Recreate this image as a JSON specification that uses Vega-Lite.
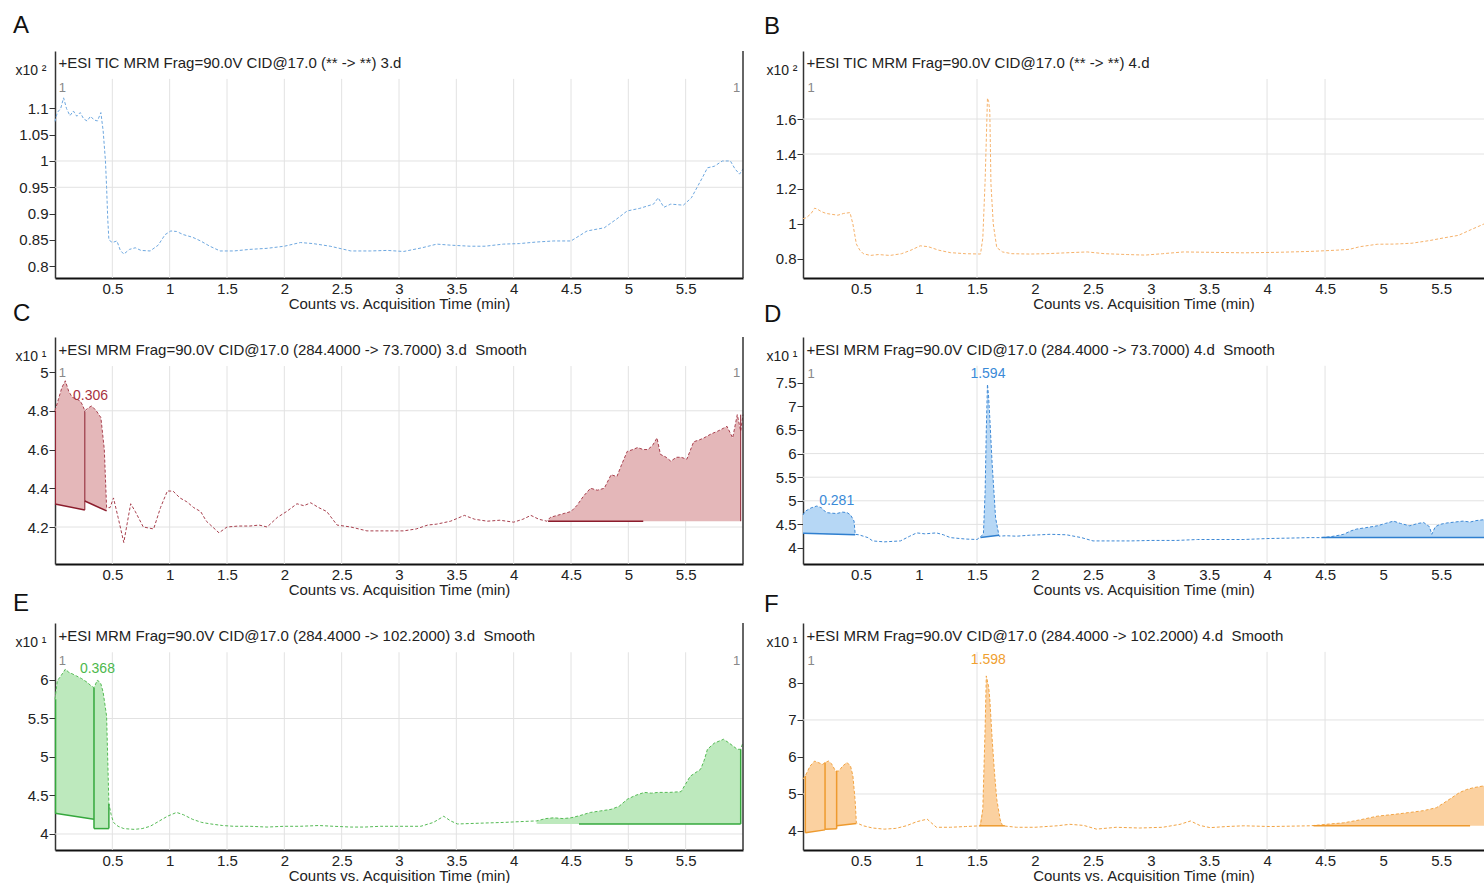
{
"$schema": "https://vega.github.io/schema/vega-lite/v6.json",
"padding": {"left": 13, "top": 14, "right": 0, "bottom": 0},
"background": "white",
"columns": 2,
"bounds": "flush",
"spacing": {"row": 59, "column": 60},
"datasets": {
"A": [{"t":0,"v":1.075},{"t":0.02,"v":1.092},{"t":0.05,"v":1.1},{"t":0.075,"v":1.12},{"t":0.1,"v":1.1},{"t":0.13,"v":1.086},{"t":0.16,"v":1.095},{"t":0.19,"v":1.085},{"t":0.22,"v":1.092},{"t":0.25,"v":1.08},{"t":0.28,"v":1.076},{"t":0.31,"v":1.085},{"t":0.34,"v":1.078},{"t":0.37,"v":1.076},{"t":0.4,"v":1.092},{"t":0.42,"v":1.057},{"t":0.44,"v":1.0},{"t":0.45,"v":0.95},{"t":0.46,"v":0.89},{"t":0.47,"v":0.85},{"t":0.5,"v":0.845},{"t":0.54,"v":0.848},{"t":0.57,"v":0.83},{"t":0.6,"v":0.823},{"t":0.65,"v":0.832},{"t":0.7,"v":0.835},{"t":0.75,"v":0.83},{"t":0.83,"v":0.829},{"t":0.9,"v":0.84},{"t":0.96,"v":0.86},{"t":1.01,"v":0.867},{"t":1.06,"v":0.866},{"t":1.12,"v":0.86},{"t":1.2,"v":0.855},{"t":1.27,"v":0.848},{"t":1.35,"v":0.838},{"t":1.44,"v":0.829},{"t":1.56,"v":0.829},{"t":1.7,"v":0.832},{"t":1.85,"v":0.834},{"t":2.0,"v":0.838},{"t":2.14,"v":0.845},{"t":2.25,"v":0.843},{"t":2.4,"v":0.838},{"t":2.58,"v":0.829},{"t":2.75,"v":0.829},{"t":2.9,"v":0.83},{"t":3.04,"v":0.828},{"t":3.2,"v":0.835},{"t":3.33,"v":0.842},{"t":3.45,"v":0.84},{"t":3.62,"v":0.838},{"t":3.75,"v":0.838},{"t":3.91,"v":0.842},{"t":4.05,"v":0.843},{"t":4.2,"v":0.846},{"t":4.35,"v":0.848},{"t":4.5,"v":0.848},{"t":4.64,"v":0.867},{"t":4.79,"v":0.873},{"t":4.9,"v":0.89},{"t":4.99,"v":0.905},{"t":5.1,"v":0.91},{"t":5.22,"v":0.918},{"t":5.26,"v":0.93},{"t":5.31,"v":0.912},{"t":5.37,"v":0.918},{"t":5.48,"v":0.916},{"t":5.55,"v":0.93},{"t":5.6,"v":0.95},{"t":5.65,"v":0.97},{"t":5.69,"v":0.987},{"t":5.75,"v":0.99},{"t":5.82,"v":1.0},{"t":5.89,"v":1.0},{"t":5.93,"v":0.985},{"t":5.97,"v":0.975},{"t":6.0,"v":0.985}],
"B": [{"t":0,"v":1.03},{"t":0.03,"v":1.036},{"t":0.07,"v":1.06},{"t":0.1,"v":1.09},{"t":0.12,"v":1.086},{"t":0.16,"v":1.07},{"t":0.2,"v":1.06},{"t":0.25,"v":1.055},{"t":0.3,"v":1.05},{"t":0.35,"v":1.06},{"t":0.405,"v":1.065},{"t":0.43,"v":1.0},{"t":0.46,"v":0.885},{"t":0.49,"v":0.85},{"t":0.52,"v":0.83},{"t":0.58,"v":0.82},{"t":0.65,"v":0.825},{"t":0.75,"v":0.82},{"t":0.85,"v":0.83},{"t":0.93,"v":0.85},{"t":1.01,"v":0.875},{"t":1.08,"v":0.87},{"t":1.17,"v":0.85},{"t":1.27,"v":0.836},{"t":1.4,"v":0.83},{"t":1.53,"v":0.828},{"t":1.55,"v":0.92},{"t":1.57,"v":1.25},{"t":1.585,"v":1.6},{"t":1.59,"v":1.72},{"t":1.6,"v":1.7},{"t":1.61,"v":1.646},{"t":1.615,"v":1.45},{"t":1.62,"v":1.23},{"t":1.64,"v":1.0},{"t":1.67,"v":0.865},{"t":1.72,"v":0.84},{"t":1.8,"v":0.83},{"t":1.95,"v":0.828},{"t":2.1,"v":0.83},{"t":2.3,"v":0.836},{"t":2.45,"v":0.84},{"t":2.6,"v":0.83},{"t":2.8,"v":0.825},{"t":2.95,"v":0.822},{"t":3.1,"v":0.83},{"t":3.28,"v":0.84},{"t":3.5,"v":0.838},{"t":3.8,"v":0.835},{"t":4.1,"v":0.838},{"t":4.37,"v":0.843},{"t":4.6,"v":0.85},{"t":4.71,"v":0.855},{"t":4.8,"v":0.87},{"t":4.95,"v":0.884},{"t":5.1,"v":0.885},{"t":5.25,"v":0.89},{"t":5.4,"v":0.905},{"t":5.52,"v":0.92},{"t":5.65,"v":0.935},{"t":5.75,"v":0.965},{"t":5.87,"v":1.0}],
"C": [{"t":0,"v":4.8},{"t":0.03,"v":4.86},{"t":0.06,"v":4.92},{"t":0.09,"v":4.955},{"t":0.12,"v":4.9},{"t":0.15,"v":4.87},{"t":0.19,"v":4.86},{"t":0.22,"v":4.85},{"t":0.24,"v":4.83},{"t":0.26,"v":4.8},{"t":0.29,"v":4.815},{"t":0.32,"v":4.825},{"t":0.36,"v":4.8},{"t":0.4,"v":4.765},{"t":0.43,"v":4.6},{"t":0.45,"v":4.3},{"t":0.48,"v":4.3},{"t":0.51,"v":4.35},{"t":0.55,"v":4.25},{"t":0.6,"v":4.12},{"t":0.63,"v":4.22},{"t":0.66,"v":4.32},{"t":0.7,"v":4.28},{"t":0.77,"v":4.2},{"t":0.86,"v":4.19},{"t":0.92,"v":4.3},{"t":0.98,"v":4.386},{"t":1.03,"v":4.385},{"t":1.09,"v":4.35},{"t":1.15,"v":4.33},{"t":1.21,"v":4.3},{"t":1.27,"v":4.28},{"t":1.32,"v":4.23},{"t":1.43,"v":4.17},{"t":1.5,"v":4.2},{"t":1.6,"v":4.205},{"t":1.7,"v":4.205},{"t":1.78,"v":4.21},{"t":1.85,"v":4.2},{"t":1.94,"v":4.25},{"t":2.02,"v":4.28},{"t":2.11,"v":4.32},{"t":2.17,"v":4.31},{"t":2.23,"v":4.325},{"t":2.3,"v":4.3},{"t":2.37,"v":4.28},{"t":2.46,"v":4.21},{"t":2.58,"v":4.2},{"t":2.72,"v":4.18},{"t":2.84,"v":4.18},{"t":2.95,"v":4.18},{"t":3.04,"v":4.18},{"t":3.15,"v":4.19},{"t":3.25,"v":4.21},{"t":3.33,"v":4.215},{"t":3.45,"v":4.23},{"t":3.57,"v":4.26},{"t":3.66,"v":4.24},{"t":3.77,"v":4.23},{"t":3.88,"v":4.235},{"t":4.0,"v":4.225},{"t":4.08,"v":4.24},{"t":4.15,"v":4.26},{"t":4.22,"v":4.24},{"t":4.29,"v":4.23},{"t":4.32,"v":4.25},{"t":4.38,"v":4.26},{"t":4.44,"v":4.27},{"t":4.5,"v":4.28},{"t":4.55,"v":4.31},{"t":4.61,"v":4.36},{"t":4.67,"v":4.4},{"t":4.73,"v":4.39},{"t":4.79,"v":4.4},{"t":4.85,"v":4.47},{"t":4.9,"v":4.46},{"t":4.94,"v":4.52},{"t":4.99,"v":4.59},{"t":5.04,"v":4.6},{"t":5.08,"v":4.61},{"t":5.13,"v":4.6},{"t":5.17,"v":4.6},{"t":5.21,"v":4.62},{"t":5.25,"v":4.66},{"t":5.28,"v":4.575},{"t":5.33,"v":4.56},{"t":5.37,"v":4.54},{"t":5.42,"v":4.56},{"t":5.46,"v":4.56},{"t":5.51,"v":4.55},{"t":5.57,"v":4.64},{"t":5.62,"v":4.65},{"t":5.66,"v":4.66},{"t":5.72,"v":4.68},{"t":5.78,"v":4.695},{"t":5.83,"v":4.71},{"t":5.86,"v":4.72},{"t":5.91,"v":4.66},{"t":5.95,"v":4.78},{"t":5.98,"v":4.695},{"t":6.0,"v":4.78}],
"C_area": [{"seg":"a","t":0,"v":4.8,"b":4.319},{"seg":"a","t":0.03,"v":4.86,"b":4.315},{"seg":"a","t":0.06,"v":4.92,"b":4.312},{"seg":"a","t":0.09,"v":4.955,"b":4.308},{"seg":"a","t":0.12,"v":4.9,"b":4.305},{"seg":"a","t":0.15,"v":4.87,"b":4.301},{"seg":"a","t":0.19,"v":4.86,"b":4.297},{"seg":"a","t":0.22,"v":4.85,"b":4.293},{"seg":"a","t":0.24,"v":4.83,"b":4.29},{"seg":"a","t":0.26,"v":4.8,"b":4.288},
{"seg":"b","t":0.26,"v":4.79,"b":4.334},{"seg":"b","t":0.29,"v":4.815,"b":4.326},{"seg":"b","t":0.32,"v":4.825,"b":4.318},{"seg":"b","t":0.36,"v":4.8,"b":4.307},{"seg":"b","t":0.4,"v":4.765,"b":4.296},{"seg":"b","t":0.43,"v":4.6,"b":4.288},{"seg":"b","t":0.45,"v":4.3,"b":4.283},
{"seg":"c","t":4.3,"v":4.23,"b":4.23},{"seg":"c","t":4.32,"v":4.25,"b":4.23},{"seg":"c","t":4.38,"v":4.26,"b":4.23},{"seg":"c","t":4.44,"v":4.27,"b":4.23},{"seg":"c","t":4.5,"v":4.28,"b":4.23},{"seg":"c","t":4.55,"v":4.31,"b":4.23},{"seg":"c","t":4.61,"v":4.36,"b":4.23},{"seg":"c","t":4.67,"v":4.4,"b":4.23},{"seg":"c","t":4.73,"v":4.39,"b":4.23},{"seg":"c","t":4.79,"v":4.4,"b":4.23},{"seg":"c","t":4.85,"v":4.47,"b":4.23},{"seg":"c","t":4.9,"v":4.46,"b":4.23},{"seg":"c","t":4.94,"v":4.52,"b":4.23},{"seg":"c","t":4.99,"v":4.59,"b":4.23},{"seg":"c","t":5.04,"v":4.6,"b":4.23},{"seg":"c","t":5.08,"v":4.61,"b":4.23},{"seg":"c","t":5.13,"v":4.6,"b":4.23},{"seg":"c","t":5.17,"v":4.6,"b":4.23},{"seg":"c","t":5.21,"v":4.62,"b":4.23},{"seg":"c","t":5.25,"v":4.66,"b":4.23},{"seg":"c","t":5.28,"v":4.575,"b":4.23},{"seg":"c","t":5.33,"v":4.56,"b":4.23},{"seg":"c","t":5.37,"v":4.54,"b":4.23},{"seg":"c","t":5.42,"v":4.56,"b":4.23},{"seg":"c","t":5.46,"v":4.56,"b":4.23},{"seg":"c","t":5.51,"v":4.55,"b":4.23},{"seg":"c","t":5.57,"v":4.64,"b":4.23},{"seg":"c","t":5.62,"v":4.65,"b":4.23},{"seg":"c","t":5.66,"v":4.66,"b":4.23},{"seg":"c","t":5.72,"v":4.68,"b":4.23},{"seg":"c","t":5.78,"v":4.695,"b":4.23},{"seg":"c","t":5.83,"v":4.71,"b":4.23},{"seg":"c","t":5.86,"v":4.72,"b":4.23},{"seg":"c","t":5.91,"v":4.66,"b":4.23},{"seg":"c","t":5.95,"v":4.78,"b":4.23},{"seg":"c","t":5.98,"v":4.695,"b":4.23}],
"C_base": [{"seg":"a","t":0,"b":4.319},{"seg":"a","t":0.26,"b":4.288},{"seg":"b","t":0.26,"b":4.334},{"seg":"b","t":0.45,"b":4.283},{"seg":"c","t":4.3,"b":4.23},{"seg":"c","t":5.13,"b":4.23}],
"C_edge": [{"t":0.005,"v":4.8,"b":4.319},{"t":0.26,"v":4.8,"b":4.288},{"t":5.98,"v":4.78,"b":4.23}],
"D": [{"t":0,"v":4.7},{"t":0.02,"v":4.78},{"t":0.07,"v":4.85},{"t":0.12,"v":4.89},{"t":0.16,"v":4.85},{"t":0.2,"v":4.75},{"t":0.24,"v":4.74},{"t":0.29,"v":4.73},{"t":0.34,"v":4.76},{"t":0.38,"v":4.75},{"t":0.41,"v":4.7},{"t":0.44,"v":4.57},{"t":0.45,"v":4.29},{"t":0.48,"v":4.28},{"t":0.52,"v":4.25},{"t":0.56,"v":4.22},{"t":0.6,"v":4.15},{"t":0.7,"v":4.13},{"t":0.84,"v":4.15},{"t":0.92,"v":4.25},{"t":0.98,"v":4.32},{"t":1.05,"v":4.3},{"t":1.15,"v":4.32},{"t":1.21,"v":4.28},{"t":1.27,"v":4.22},{"t":1.4,"v":4.19},{"t":1.5,"v":4.18},{"t":1.555,"v":4.29},{"t":1.57,"v":5.2},{"t":1.58,"v":6.5},{"t":1.59,"v":7.47},{"t":1.6,"v":7.2},{"t":1.61,"v":6.76},{"t":1.63,"v":5.8},{"t":1.66,"v":4.64},{"t":1.69,"v":4.25},{"t":1.75,"v":4.26},{"t":1.84,"v":4.25},{"t":1.95,"v":4.27},{"t":2.05,"v":4.28},{"t":2.13,"v":4.29},{"t":2.27,"v":4.28},{"t":2.4,"v":4.22},{"t":2.5,"v":4.15},{"t":2.65,"v":4.15},{"t":2.82,"v":4.15},{"t":3.0,"v":4.16},{"t":3.22,"v":4.16},{"t":3.4,"v":4.18},{"t":3.6,"v":4.18},{"t":3.8,"v":4.18},{"t":4.0,"v":4.2},{"t":4.2,"v":4.21},{"t":4.37,"v":4.22},{"t":4.47,"v":4.22},{"t":4.55,"v":4.24},{"t":4.62,"v":4.27},{"t":4.66,"v":4.29},{"t":4.72,"v":4.36},{"t":4.77,"v":4.4},{"t":4.85,"v":4.43},{"t":4.95,"v":4.47},{"t":5.02,"v":4.52},{"t":5.09,"v":4.57},{"t":5.15,"v":4.52},{"t":5.23,"v":4.47},{"t":5.3,"v":4.52},{"t":5.35,"v":4.54},{"t":5.4,"v":4.45},{"t":5.42,"v":4.29},{"t":5.45,"v":4.45},{"t":5.49,"v":4.5},{"t":5.55,"v":4.53},{"t":5.62,"v":4.55},{"t":5.69,"v":4.57},{"t":5.75,"v":4.55},{"t":5.8,"v":4.58},{"t":5.87,"v":4.6}],
"D_area": [{"seg":"a","t":0,"v":4.7,"b":4.31},{"seg":"a","t":0.02,"v":4.78,"b":4.31},{"seg":"a","t":0.07,"v":4.85,"b":4.3},{"seg":"a","t":0.12,"v":4.89,"b":4.3},{"seg":"a","t":0.16,"v":4.85,"b":4.3},{"seg":"a","t":0.2,"v":4.75,"b":4.29},{"seg":"a","t":0.24,"v":4.74,"b":4.29},{"seg":"a","t":0.29,"v":4.73,"b":4.29},{"seg":"a","t":0.34,"v":4.76,"b":4.285},{"seg":"a","t":0.38,"v":4.75,"b":4.285},{"seg":"a","t":0.41,"v":4.7,"b":4.28},{"seg":"a","t":0.44,"v":4.57,"b":4.28},{"seg":"a","t":0.45,"v":4.28,"b":4.28},
{"seg":"b","t":1.53,"v":4.22,"b":4.22},{"seg":"b","t":1.555,"v":4.29,"b":4.227},{"seg":"b","t":1.57,"v":5.2,"b":4.23},{"seg":"b","t":1.58,"v":6.5,"b":4.235},{"seg":"b","t":1.59,"v":7.47,"b":4.238},{"seg":"b","t":1.6,"v":7.2,"b":4.24},{"seg":"b","t":1.61,"v":6.76,"b":4.243},{"seg":"b","t":1.63,"v":5.8,"b":4.25},{"seg":"b","t":1.66,"v":4.64,"b":4.26},{"seg":"b","t":1.69,"v":4.27,"b":4.27},
{"seg":"c","t":4.47,"v":4.22,"b":4.22},{"seg":"c","t":4.55,"v":4.24,"b":4.22},{"seg":"c","t":4.62,"v":4.27,"b":4.22},{"seg":"c","t":4.66,"v":4.29,"b":4.22},{"seg":"c","t":4.72,"v":4.36,"b":4.22},{"seg":"c","t":4.77,"v":4.4,"b":4.22},{"seg":"c","t":4.85,"v":4.43,"b":4.22},{"seg":"c","t":4.95,"v":4.47,"b":4.22},{"seg":"c","t":5.02,"v":4.52,"b":4.22},{"seg":"c","t":5.09,"v":4.57,"b":4.22},{"seg":"c","t":5.15,"v":4.52,"b":4.22},{"seg":"c","t":5.23,"v":4.47,"b":4.22},{"seg":"c","t":5.3,"v":4.52,"b":4.22},{"seg":"c","t":5.35,"v":4.54,"b":4.22},{"seg":"c","t":5.4,"v":4.45,"b":4.22},{"seg":"c","t":5.42,"v":4.29,"b":4.22},{"seg":"c","t":5.45,"v":4.45,"b":4.22},{"seg":"c","t":5.49,"v":4.5,"b":4.22},{"seg":"c","t":5.55,"v":4.53,"b":4.22},{"seg":"c","t":5.62,"v":4.55,"b":4.22},{"seg":"c","t":5.69,"v":4.57,"b":4.22},{"seg":"c","t":5.75,"v":4.55,"b":4.22},{"seg":"c","t":5.8,"v":4.58,"b":4.22},{"seg":"c","t":5.87,"v":4.6,"b":4.22}],
"D_base": [{"seg":"a","t":0,"b":4.31},{"seg":"a","t":0.45,"b":4.28},{"seg":"b","t":1.53,"b":4.22},{"seg":"b","t":1.69,"b":4.27},{"seg":"c","t":4.47,"b":4.22},{"seg":"c","t":5.87,"b":4.22}],
"E": [{"t":0,"v":5.75},{"t":0.02,"v":5.99},{"t":0.05,"v":6.05},{"t":0.09,"v":6.14},{"t":0.12,"v":6.1},{"t":0.15,"v":6.08},{"t":0.19,"v":6.05},{"t":0.23,"v":6.02},{"t":0.28,"v":5.97},{"t":0.31,"v":5.93},{"t":0.34,"v":5.9},{"t":0.37,"v":6.0},{"t":0.4,"v":5.95},{"t":0.42,"v":5.84},{"t":0.45,"v":5.53},{"t":0.47,"v":4.39},{"t":0.49,"v":4.25},{"t":0.51,"v":4.15},{"t":0.55,"v":4.1},{"t":0.6,"v":4.07},{"t":0.69,"v":4.06},{"t":0.76,"v":4.07},{"t":0.83,"v":4.1},{"t":0.9,"v":4.16},{"t":0.98,"v":4.23},{"t":1.06,"v":4.28},{"t":1.12,"v":4.25},{"t":1.2,"v":4.19},{"t":1.28,"v":4.15},{"t":1.36,"v":4.13},{"t":1.46,"v":4.11},{"t":1.56,"v":4.1},{"t":1.7,"v":4.1},{"t":1.85,"v":4.09},{"t":2.0,"v":4.1},{"t":2.14,"v":4.1},{"t":2.3,"v":4.11},{"t":2.43,"v":4.1},{"t":2.58,"v":4.09},{"t":2.7,"v":4.09},{"t":2.84,"v":4.1},{"t":3.0,"v":4.1},{"t":3.19,"v":4.1},{"t":3.3,"v":4.15},{"t":3.39,"v":4.23},{"t":3.45,"v":4.17},{"t":3.51,"v":4.13},{"t":3.7,"v":4.14},{"t":3.91,"v":4.15},{"t":4.05,"v":4.16},{"t":4.2,"v":4.17},{"t":4.28,"v":4.2},{"t":4.35,"v":4.21},{"t":4.43,"v":4.2},{"t":4.5,"v":4.21},{"t":4.58,"v":4.24},{"t":4.67,"v":4.28},{"t":4.76,"v":4.3},{"t":4.85,"v":4.32},{"t":4.92,"v":4.36},{"t":4.99,"v":4.45},{"t":5.06,"v":4.5},{"t":5.14,"v":4.54},{"t":5.2,"v":4.53},{"t":5.26,"v":4.54},{"t":5.36,"v":4.54},{"t":5.46,"v":4.55},{"t":5.5,"v":4.65},{"t":5.54,"v":4.75},{"t":5.63,"v":4.84},{"t":5.66,"v":4.95},{"t":5.69,"v":5.1},{"t":5.75,"v":5.18},{"t":5.83,"v":5.23},{"t":5.88,"v":5.18},{"t":5.95,"v":5.1},{"t":5.98,"v":5.1},{"t":6.0,"v":5.19}],
"E_area": [{"seg":"a","t":0,"v":5.75,"b":4.27},{"seg":"a","t":0.02,"v":5.99,"b":4.265},{"seg":"a","t":0.05,"v":6.05,"b":4.258},{"seg":"a","t":0.09,"v":6.14,"b":4.249},{"seg":"a","t":0.12,"v":6.1,"b":4.242},{"seg":"a","t":0.15,"v":6.08,"b":4.235},{"seg":"a","t":0.19,"v":6.05,"b":4.225},{"seg":"a","t":0.23,"v":6.02,"b":4.216},{"seg":"a","t":0.28,"v":5.97,"b":4.204},{"seg":"a","t":0.31,"v":5.93,"b":4.197},{"seg":"a","t":0.34,"v":5.9,"b":4.19},
{"seg":"b","t":0.34,"v":5.9,"b":4.07},{"seg":"b","t":0.37,"v":6.0,"b":4.07},{"seg":"b","t":0.4,"v":5.95,"b":4.07},{"seg":"b","t":0.42,"v":5.84,"b":4.07},{"seg":"b","t":0.45,"v":5.53,"b":4.07},{"seg":"b","t":0.47,"v":4.39,"b":4.07},
{"seg":"c","t":4.2,"v":4.17,"b":4.13},{"seg":"c","t":4.28,"v":4.2,"b":4.13},{"seg":"c","t":4.35,"v":4.21,"b":4.13},{"seg":"c","t":4.43,"v":4.2,"b":4.13},{"seg":"c","t":4.5,"v":4.21,"b":4.13},{"seg":"c","t":4.58,"v":4.24,"b":4.13},{"seg":"c","t":4.67,"v":4.28,"b":4.13},{"seg":"c","t":4.76,"v":4.3,"b":4.13},{"seg":"c","t":4.85,"v":4.32,"b":4.13},{"seg":"c","t":4.92,"v":4.36,"b":4.13},{"seg":"c","t":4.99,"v":4.45,"b":4.13},{"seg":"c","t":5.06,"v":4.5,"b":4.13},{"seg":"c","t":5.14,"v":4.54,"b":4.13},{"seg":"c","t":5.2,"v":4.53,"b":4.13},{"seg":"c","t":5.26,"v":4.54,"b":4.13},{"seg":"c","t":5.36,"v":4.54,"b":4.13},{"seg":"c","t":5.46,"v":4.55,"b":4.13},{"seg":"c","t":5.5,"v":4.65,"b":4.13},{"seg":"c","t":5.54,"v":4.75,"b":4.13},{"seg":"c","t":5.63,"v":4.84,"b":4.13},{"seg":"c","t":5.66,"v":4.95,"b":4.13},{"seg":"c","t":5.69,"v":5.1,"b":4.13},{"seg":"c","t":5.75,"v":5.18,"b":4.13},{"seg":"c","t":5.83,"v":5.23,"b":4.13},{"seg":"c","t":5.88,"v":5.18,"b":4.13},{"seg":"c","t":5.95,"v":5.1,"b":4.13},{"seg":"c","t":5.98,"v":5.1,"b":4.13}],
"E_base": [{"seg":"a","t":0,"b":4.27},{"seg":"a","t":0.34,"b":4.19},{"seg":"b","t":0.34,"b":4.07},{"seg":"b","t":0.47,"b":4.07},{"seg":"c","t":4.57,"b":4.13},{"seg":"c","t":5.98,"b":4.13}],
"E_edge": [{"t":0.005,"v":5.75,"b":4.27},{"t":0.34,"v":5.9,"b":4.07},{"t":0.47,"v":4.39,"b":4.07},{"t":5.98,"v":5.1,"b":4.13}],
"F": [{"t":0,"v":5.4},{"t":0.02,"v":5.49},{"t":0.06,"v":5.75},{"t":0.1,"v":5.89},{"t":0.13,"v":5.85},{"t":0.17,"v":5.8},{"t":0.19,"v":5.85},{"t":0.22,"v":5.89},{"t":0.25,"v":5.8},{"t":0.28,"v":5.62},{"t":0.31,"v":5.62},{"t":0.34,"v":5.75},{"t":0.38,"v":5.85},{"t":0.41,"v":5.75},{"t":0.43,"v":5.49},{"t":0.45,"v":4.8},{"t":0.46,"v":4.22},{"t":0.49,"v":4.18},{"t":0.52,"v":4.14},{"t":0.6,"v":4.08},{"t":0.7,"v":4.05},{"t":0.8,"v":4.07},{"t":0.89,"v":4.14},{"t":0.98,"v":4.25},{"t":1.07,"v":4.32},{"t":1.15,"v":4.1},{"t":1.27,"v":4.1},{"t":1.4,"v":4.12},{"t":1.53,"v":4.14},{"t":1.55,"v":4.6},{"t":1.57,"v":6.8},{"t":1.58,"v":8.19},{"t":1.6,"v":7.9},{"t":1.61,"v":7.57},{"t":1.63,"v":6.5},{"t":1.65,"v":5.6},{"t":1.67,"v":4.86},{"t":1.7,"v":4.3},{"t":1.72,"v":4.14},{"t":1.84,"v":4.1},{"t":2.0,"v":4.1},{"t":2.19,"v":4.14},{"t":2.3,"v":4.18},{"t":2.42,"v":4.15},{"t":2.53,"v":4.05},{"t":2.7,"v":4.1},{"t":2.9,"v":4.08},{"t":3.1,"v":4.1},{"t":3.25,"v":4.18},{"t":3.34,"v":4.27},{"t":3.42,"v":4.15},{"t":3.51,"v":4.09},{"t":3.65,"v":4.12},{"t":3.8,"v":4.14},{"t":4.03,"v":4.12},{"t":4.2,"v":4.13},{"t":4.37,"v":4.14},{"t":4.45,"v":4.16},{"t":4.51,"v":4.18},{"t":4.66,"v":4.22},{"t":4.8,"v":4.3},{"t":4.95,"v":4.4},{"t":5.1,"v":4.45},{"t":5.23,"v":4.5},{"t":5.35,"v":4.55},{"t":5.46,"v":4.63},{"t":5.55,"v":4.81},{"t":5.66,"v":5.04},{"t":5.72,"v":5.12},{"t":5.78,"v":5.17},{"t":5.87,"v":5.22}],
"F_area": [{"seg":"a","t":0.02,"v":5.49,"b":3.95},{"seg":"a","t":0.06,"v":5.75,"b":3.97},{"seg":"a","t":0.1,"v":5.89,"b":3.99},{"seg":"a","t":0.13,"v":5.85,"b":4.0},{"seg":"a","t":0.17,"v":5.8,"b":4.02},{"seg":"a","t":0.19,"v":5.85,"b":4.03},
{"seg":"b","t":0.19,"v":5.85,"b":4.05},{"seg":"b","t":0.22,"v":5.89,"b":4.05},{"seg":"b","t":0.25,"v":5.8,"b":4.06},{"seg":"b","t":0.28,"v":5.62,"b":4.06},{"seg":"b","t":0.29,"v":5.62,"b":4.06},
{"seg":"c","t":0.29,"v":5.62,"b":4.14},{"seg":"c","t":0.31,"v":5.62,"b":4.15},{"seg":"c","t":0.34,"v":5.75,"b":4.16},{"seg":"c","t":0.38,"v":5.85,"b":4.17},{"seg":"c","t":0.41,"v":5.75,"b":4.18},{"seg":"c","t":0.43,"v":5.49,"b":4.19},{"seg":"c","t":0.45,"v":4.8,"b":4.2},{"seg":"c","t":0.46,"v":4.22,"b":4.2},
{"seg":"d","t":1.52,"v":4.14,"b":4.14},{"seg":"d","t":1.55,"v":4.6,"b":4.14},{"seg":"d","t":1.57,"v":6.8,"b":4.14},{"seg":"d","t":1.58,"v":8.19,"b":4.14},{"seg":"d","t":1.6,"v":7.9,"b":4.14},{"seg":"d","t":1.61,"v":7.57,"b":4.14},{"seg":"d","t":1.63,"v":6.5,"b":4.14},{"seg":"d","t":1.65,"v":5.6,"b":4.14},{"seg":"d","t":1.67,"v":4.86,"b":4.14},{"seg":"d","t":1.7,"v":4.3,"b":4.14},{"seg":"d","t":1.72,"v":4.14,"b":4.14},
{"seg":"e","t":4.45,"v":4.16,"b":4.14},{"seg":"e","t":4.51,"v":4.18,"b":4.14},{"seg":"e","t":4.66,"v":4.22,"b":4.14},{"seg":"e","t":4.8,"v":4.3,"b":4.14},{"seg":"e","t":4.95,"v":4.4,"b":4.14},{"seg":"e","t":5.1,"v":4.45,"b":4.14},{"seg":"e","t":5.23,"v":4.5,"b":4.14},{"seg":"e","t":5.35,"v":4.55,"b":4.14},{"seg":"e","t":5.46,"v":4.63,"b":4.14},{"seg":"e","t":5.55,"v":4.81,"b":4.14},{"seg":"e","t":5.66,"v":5.04,"b":4.14},{"seg":"e","t":5.72,"v":5.12,"b":4.14},{"seg":"e","t":5.78,"v":5.17,"b":4.14},{"seg":"e","t":5.87,"v":5.22,"b":4.14}],
"F_base": [{"seg":"a","t":0.02,"b":3.95},{"seg":"a","t":0.19,"b":4.03},{"seg":"b","t":0.19,"b":4.05},{"seg":"b","t":0.29,"b":4.06},{"seg":"c","t":0.29,"b":4.14},{"seg":"c","t":0.46,"b":4.2},{"seg":"d","t":1.52,"b":4.14},{"seg":"d","t":1.74,"b":4.14},{"seg":"e","t":4.4,"b":4.14},{"seg":"e","t":5.75,"b":4.14}],
"F_edge": [{"t":0.02,"v":5.49,"b":3.95},{"t":0.19,"v":5.85,"b":4.03},{"t":0.29,"v":5.62,"b":4.06}],
"gridL": [{"t":0.5},{"t":1},{"t":1.5},{"t":2},{"t":2.5},{"t":3},{"t":3.5},{"t":4},{"t":4.5},{"t":5},{"t":5.5}],
"gridR": [{"t":1.5},{"t":4},{"t":4.5}]
},
"concat": [
{
"width": 688, "height": 227,
"title": {"text": "A", "offset": 12},
"layer": [
{"data": {"name": "gridL"}, "mark": {"type": "rule", "color": "#e2e2e2"}, "encoding": {"x": {"field": "t", "type": "quantitative"}, "y": {"datum": 1.156}, "y2": {"datum": 0.7776}}},
{"data": {"values": [{"v": 1}, {"v": 0.95}]}, "mark": {"type": "rule", "color": "#e2e2e2"}, "encoding": {"y": {"field": "v", "type": "quantitative"}}},
{"data": {"name": "A"}, "mark": {"type": "line", "color": "#6ea8e0", "strokeWidth": 1, "strokeDash": [3, 2]},
 "encoding": {"x": {"field": "t", "type": "quantitative", "scale": {"domain": [0, 6], "nice": false, "zero": false}, "axis": {"values": [0.5,1,1.5,2,2.5,3,3.5,4,4.5,5,5.5], "tickCount": 30, "format": "~g", "title": "Counts vs. Acquisition Time (min)"}},
  "y": {"field": "v", "type": "quantitative", "scale": {"domain": [0.7776, 1.209], "nice": false, "zero": false}, "axis": {"values": [0.8,0.85,0.9,0.95,1,1.05,1.1], "tickCount": 30, "format": "~g", "title": "x10 ²", "titleX": -9}}}},
{"data": {"values": [{}]}, "mark": {"type": "text", "align": "left", "baseline": "middle", "fontSize": 15, "color": "#222"}, "encoding": {"x": {"datum": 0.03}, "y": {"datum": 1.186}, "text": {"value": "+ESI TIC MRM Frag=90.0V CID@17.0 (** -> **) 3.d"}}},
{"data": {"values": [{}]}, "mark": {"type": "text", "align": "center", "baseline": "middle", "fontSize": 13, "color": "#888"}, "encoding": {"x": {"datum": 0.065}, "y": {"datum": 1.139}, "text": {"value": "1"}}},
{"data": {"values": [{}]}, "mark": {"type": "text", "align": "center", "baseline": "middle", "fontSize": 13, "color": "#888"}, "encoding": {"x": {"datum": 5.945}, "y": {"datum": 1.139}, "text": {"value": "1"}}},
{"data": {"values": [{}]}, "mark": {"type": "rule", "color": "#333", "strokeWidth": 1.5}, "encoding": {"x": {"datum": 6}}}
]
},
{
"width": 681, "height": 227,
"title": {"text": "B", "offset": 12, "dx": -39},
"layer": [
{"data": {"name": "gridR"}, "mark": {"type": "rule", "color": "#e2e2e2"}, "encoding": {"x": {"field": "t", "type": "quantitative"}, "y": {"datum": 1.829}, "y2": {"datum": 0.691}}},
{"data": {"values": [{"v": 1.6}, {"v": 1.4}]}, "mark": {"type": "rule", "color": "#e2e2e2"}, "encoding": {"y": {"field": "v", "type": "quantitative"}}},
{"data": {"name": "B"}, "mark": {"type": "line", "color": "#f6b26b", "strokeWidth": 1, "strokeDash": [3, 2]},
 "encoding": {"x": {"field": "t", "type": "quantitative", "scale": {"domain": [0, 5.87], "nice": false, "zero": false}, "axis": {"values": [0.5,1,1.5,2,2.5,3,3.5,4,4.5,5,5.5], "tickCount": 30, "format": "~g", "title": "Counts vs. Acquisition Time (min)"}},
  "y": {"field": "v", "type": "quantitative", "scale": {"domain": [0.691, 1.989], "nice": false, "zero": false}, "axis": {"values": [0.8,1,1.2,1.4,1.6], "tickCount": 30, "format": "~g", "title": "x10 ²", "titleX": -6}}}},
{"data": {"values": [{}]}, "mark": {"type": "text", "align": "left", "baseline": "middle", "fontSize": 15, "color": "#222"}, "encoding": {"x": {"datum": 0.03}, "y": {"datum": 1.92}, "text": {"value": "+ESI TIC MRM Frag=90.0V CID@17.0 (** -> **) 4.d"}}},
{"data": {"values": [{}]}, "mark": {"type": "text", "align": "center", "baseline": "middle", "fontSize": 13, "color": "#888"}, "encoding": {"x": {"datum": 0.07}, "y": {"datum": 1.777}, "text": {"value": "1"}}}
]
},
{
"width": 688, "height": 227,
"title": {"text": "C", "offset": 10},
"layer": [
{"data": {"name": "gridL"}, "mark": {"type": "rule", "color": "#e2e2e2"}, "encoding": {"x": {"field": "t", "type": "quantitative"}, "y": {"datum": 5.031}, "y2": {"datum": 4.009}}},
{"data": {"values": [{"v": 4.8}, {"v": 4.2}]}, "mark": {"type": "rule", "color": "#e2e2e2"}, "encoding": {"y": {"field": "v", "type": "quantitative"}}},
{"data": {"name": "C_area"}, "mark": {"type": "area", "color": "#e4b7b9", "opacity": 1}, "encoding": {"x": {"field": "t", "type": "quantitative"}, "y": {"field": "v", "type": "quantitative"}, "y2": {"field": "b"}, "detail": {"field": "seg"}}},
{"data": {"name": "C"}, "mark": {"type": "line", "color": "#a8404e", "strokeWidth": 1, "strokeDash": [3, 2]},
 "encoding": {"x": {"field": "t", "type": "quantitative", "scale": {"domain": [0, 6], "nice": false, "zero": false}, "axis": {"values": [0.5,1,1.5,2,2.5,3,3.5,4,4.5,5,5.5], "tickCount": 30, "format": "~g", "title": "Counts vs. Acquisition Time (min)"}},
  "y": {"field": "v", "type": "quantitative", "scale": {"domain": [4.009, 5.181], "nice": false, "zero": false}, "axis": {"values": [4.2,4.4,4.6,4.8,5], "tickCount": 30, "format": "~g", "title": "x10 ¹", "titleX": -9}}}},
{"data": {"name": "C_base"}, "mark": {"type": "line", "color": "#8b1c2c", "strokeWidth": 1.5}, "encoding": {"x": {"field": "t", "type": "quantitative"}, "y": {"field": "b", "type": "quantitative"}, "detail": {"field": "seg"}}},
{"data": {"name": "C_edge"}, "mark": {"type": "rule", "color": "#8b1c2c", "strokeWidth": 1}, "encoding": {"x": {"field": "t", "type": "quantitative"}, "y": {"field": "v", "type": "quantitative"}, "y2": {"field": "b"}}},
{"data": {"values": [{}]}, "mark": {"type": "text", "align": "left", "baseline": "middle", "fontSize": 15, "color": "#222"}, "encoding": {"x": {"datum": 0.03}, "y": {"datum": 5.114}, "text": {"value": "+ESI MRM Frag=90.0V CID@17.0 (284.4000 -> 73.7000) 3.d\u00a0 Smooth"}}},
{"data": {"values": [{}]}, "mark": {"type": "text", "align": "center", "baseline": "middle", "fontSize": 13, "color": "#888"}, "encoding": {"x": {"datum": 0.065}, "y": {"datum": 4.995}, "text": {"value": "1"}}},
{"data": {"values": [{}]}, "mark": {"type": "text", "align": "center", "baseline": "middle", "fontSize": 13, "color": "#888"}, "encoding": {"x": {"datum": 5.945}, "y": {"datum": 4.995}, "text": {"value": "1"}}},
{"data": {"values": [{}]}, "mark": {"type": "text", "align": "center", "baseline": "middle", "fontSize": 14, "color": "#a8323f"}, "encoding": {"x": {"datum": 0.31}, "y": {"datum": 4.875}, "text": {"value": "0.306"}}},
{"data": {"values": [{}]}, "mark": {"type": "rule", "color": "#333", "strokeWidth": 1.5}, "encoding": {"x": {"datum": 6}}}
]
},
{
"width": 681, "height": 227,
"title": {"text": "D", "offset": 10, "dx": -39},
"layer": [
{"data": {"name": "gridR"}, "mark": {"type": "rule", "color": "#e2e2e2"}, "encoding": {"x": {"field": "t", "type": "quantitative"}, "y": {"datum": 7.86}, "y2": {"datum": 3.661}}},
{"data": {"values": [{"v": 6}, {"v": 5.5}, {"v": 5}, {"v": 4.5}]}, "mark": {"type": "rule", "color": "#e2e2e2"}, "encoding": {"y": {"field": "v", "type": "quantitative"}}},
{"data": {"name": "D_area"}, "mark": {"type": "area", "color": "#b6d7f5", "opacity": 1}, "encoding": {"x": {"field": "t", "type": "quantitative"}, "y": {"field": "v", "type": "quantitative"}, "y2": {"field": "b"}, "detail": {"field": "seg"}}},
{"data": {"name": "D"}, "mark": {"type": "line", "color": "#3f8ad6", "strokeWidth": 1, "strokeDash": [3, 2]},
 "encoding": {"x": {"field": "t", "type": "quantitative", "scale": {"domain": [0, 5.87], "nice": false, "zero": false}, "axis": {"values": [0.5,1,1.5,2,2.5,3,3.5,4,4.5,5,5.5], "tickCount": 30, "format": "~g", "title": "Counts vs. Acquisition Time (min)"}},
  "y": {"field": "v", "type": "quantitative", "scale": {"domain": [3.661, 8.47], "nice": false, "zero": false}, "axis": {"values": [4,4.5,5,5.5,6,6.5,7,7.5], "tickCount": 30, "format": "~g", "title": "x10 ¹", "titleX": -6}}}},
{"data": {"name": "D_base"}, "mark": {"type": "line", "color": "#2f7fcf", "strokeWidth": 1.5}, "encoding": {"x": {"field": "t", "type": "quantitative"}, "y": {"field": "b", "type": "quantitative"}, "detail": {"field": "seg"}}},
{"data": {"values": [{}]}, "mark": {"type": "text", "align": "left", "baseline": "middle", "fontSize": 15, "color": "#222"}, "encoding": {"x": {"datum": 0.03}, "y": {"datum": 8.19}, "text": {"value": "+ESI MRM Frag=90.0V CID@17.0 (284.4000 -> 73.7000) 4.d\u00a0 Smooth"}}},
{"data": {"values": [{}]}, "mark": {"type": "text", "align": "center", "baseline": "middle", "fontSize": 13, "color": "#888"}, "encoding": {"x": {"datum": 0.07}, "y": {"datum": 7.69}, "text": {"value": "1"}}},
{"data": {"values": [{}]}, "mark": {"type": "text", "align": "center", "baseline": "middle", "fontSize": 14, "color": "#3a8ad8"}, "encoding": {"x": {"datum": 1.594}, "y": {"datum": 7.69}, "text": {"value": "1.594"}}},
{"data": {"values": [{}]}, "mark": {"type": "text", "align": "center", "baseline": "middle", "fontSize": 14, "color": "#3a8ad8"}, "encoding": {"x": {"datum": 0.29}, "y": {"datum": 5.0}, "text": {"value": "0.281"}}}
]
},
{
"width": 688, "height": 227,
"title": {"text": "E", "offset": 6},
"layer": [
{"data": {"name": "gridL"}, "mark": {"type": "rule", "color": "#e2e2e2"}, "encoding": {"x": {"field": "t", "type": "quantitative"}, "y": {"datum": 6.36}, "y2": {"datum": 3.792}}},
{"data": {"values": [{"v": 5.5}, {"v": 4}]}, "mark": {"type": "rule", "color": "#e2e2e2"}, "encoding": {"y": {"field": "v", "type": "quantitative"}}},
{"data": {"name": "E_area"}, "mark": {"type": "area", "color": "#bde9bd", "opacity": 1}, "encoding": {"x": {"field": "t", "type": "quantitative"}, "y": {"field": "v", "type": "quantitative"}, "y2": {"field": "b"}, "detail": {"field": "seg"}}},
{"data": {"name": "E"}, "mark": {"type": "line", "color": "#55bb55", "strokeWidth": 1, "strokeDash": [3, 2]},
 "encoding": {"x": {"field": "t", "type": "quantitative", "scale": {"domain": [0, 6], "nice": false, "zero": false}, "axis": {"values": [0.5,1,1.5,2,2.5,3,3.5,4,4.5,5,5.5], "tickCount": 30, "format": "~g", "title": "Counts vs. Acquisition Time (min)"}},
  "y": {"field": "v", "type": "quantitative", "scale": {"domain": [3.792, 6.74], "nice": false, "zero": false}, "axis": {"values": [4,4.5,5,5.5,6], "tickCount": 30, "format": "~g", "title": "x10 ¹", "titleX": -9}}}},
{"data": {"name": "E_base"}, "mark": {"type": "line", "color": "#35a83d", "strokeWidth": 1.5}, "encoding": {"x": {"field": "t", "type": "quantitative"}, "y": {"field": "b", "type": "quantitative"}, "detail": {"field": "seg"}}},
{"data": {"name": "E_edge"}, "mark": {"type": "rule", "color": "#35a83d", "strokeWidth": 1.5}, "encoding": {"x": {"field": "t", "type": "quantitative"}, "y": {"field": "v", "type": "quantitative"}, "y2": {"field": "b"}}},
{"data": {"values": [{}]}, "mark": {"type": "text", "align": "left", "baseline": "middle", "fontSize": 15, "color": "#222"}, "encoding": {"x": {"datum": 0.03}, "y": {"datum": 6.57}, "text": {"value": "+ESI MRM Frag=90.0V CID@17.0 (284.4000 -> 102.2000) 3.d\u00a0 Smooth"}}},
{"data": {"values": [{}]}, "mark": {"type": "text", "align": "center", "baseline": "middle", "fontSize": 13, "color": "#888"}, "encoding": {"x": {"datum": 0.065}, "y": {"datum": 6.25}, "text": {"value": "1"}}},
{"data": {"values": [{}]}, "mark": {"type": "text", "align": "center", "baseline": "middle", "fontSize": 13, "color": "#888"}, "encoding": {"x": {"datum": 5.945}, "y": {"datum": 6.25}, "text": {"value": "1"}}},
{"data": {"values": [{}]}, "mark": {"type": "text", "align": "center", "baseline": "middle", "fontSize": 14, "color": "#4cb84c"}, "encoding": {"x": {"datum": 0.37}, "y": {"datum": 6.14}, "text": {"value": "0.368"}}},
{"data": {"values": [{}]}, "mark": {"type": "rule", "color": "#333", "strokeWidth": 1.5}, "encoding": {"x": {"datum": 6}}}
]
},
{
"width": 681, "height": 227,
"title": {"text": "F", "offset": 6, "dx": -39},
"layer": [
{"data": {"name": "gridR"}, "mark": {"type": "rule", "color": "#e2e2e2"}, "encoding": {"x": {"field": "t", "type": "quantitative"}, "y": {"datum": 8.84}, "y2": {"datum": 3.486}}},
{"data": {"values": [{"v": 7}, {"v": 5}]}, "mark": {"type": "rule", "color": "#e2e2e2"}, "encoding": {"y": {"field": "v", "type": "quantitative"}}},
{"data": {"name": "F_area"}, "mark": {"type": "area", "color": "#fbd1a0", "opacity": 1}, "encoding": {"x": {"field": "t", "type": "quantitative"}, "y": {"field": "v", "type": "quantitative"}, "y2": {"field": "b"}, "detail": {"field": "seg"}}},
{"data": {"name": "F"}, "mark": {"type": "line", "color": "#f2a444", "strokeWidth": 1, "strokeDash": [3, 2]},
 "encoding": {"x": {"field": "t", "type": "quantitative", "scale": {"domain": [0, 5.87], "nice": false, "zero": false}, "axis": {"values": [0.5,1,1.5,2,2.5,3,3.5,4,4.5,5,5.5], "tickCount": 30, "format": "~g", "title": "Counts vs. Acquisition Time (min)"}},
  "y": {"field": "v", "type": "quantitative", "scale": {"domain": [3.486, 9.62], "nice": false, "zero": false}, "axis": {"values": [4,5,6,7,8], "tickCount": 30, "format": "~g", "title": "x10 ¹", "titleX": -6}}}},
{"data": {"name": "F_base"}, "mark": {"type": "line", "color": "#ee9a2e", "strokeWidth": 1.5}, "encoding": {"x": {"field": "t", "type": "quantitative"}, "y": {"field": "b", "type": "quantitative"}, "detail": {"field": "seg"}}},
{"data": {"name": "F_edge"}, "mark": {"type": "rule", "color": "#ee9a2e", "strokeWidth": 1.5}, "encoding": {"x": {"field": "t", "type": "quantitative"}, "y": {"field": "v", "type": "quantitative"}, "y2": {"field": "b"}}},
{"data": {"values": [{}]}, "mark": {"type": "text", "align": "left", "baseline": "middle", "fontSize": 15, "color": "#222"}, "encoding": {"x": {"datum": 0.03}, "y": {"datum": 9.27}, "text": {"value": "+ESI MRM Frag=90.0V CID@17.0 (284.4000 -> 102.2000) 4.d\u00a0 Smooth"}}},
{"data": {"values": [{}]}, "mark": {"type": "text", "align": "center", "baseline": "middle", "fontSize": 13, "color": "#888"}, "encoding": {"x": {"datum": 0.07}, "y": {"datum": 8.59}, "text": {"value": "1"}}},
{"data": {"values": [{}]}, "mark": {"type": "text", "align": "center", "baseline": "middle", "fontSize": 14, "color": "#f0a030"}, "encoding": {"x": {"datum": 1.598}, "y": {"datum": 8.62}, "text": {"value": "1.598"}}}
]
}
],
"config": {
"font": "Liberation Sans",
"view": {"stroke": null},
"axis": {"grid": false, "labelOverlap": false, "labelFont": "Liberation Sans", "labelFontSize": 15, "labelColor": "#222", "titleFont": "Liberation Sans", "titleFontSize": 15, "titleFontWeight": "normal", "titleColor": "#222", "domainColor": "#333", "tickColor": "#333"},
"axisX": {"domainWidth": 2, "domainColor": "#111", "ticks": false, "labelPadding": 3, "titlePadding": 0, "labelFlush": false},
"axisY": {"domainWidth": 1.5, "tickSize": 6, "labelPadding": 1, "titleAngle": 0, "titleAlign": "right", "titleBaseline": "alphabetic", "titleY": 23, "titleFontSize": 14},
"title": {"anchor": "start", "fontSize": 24, "fontWeight": "normal", "font": "Liberation Sans", "color": "#111", "dx": -42, "frame": "group"}
}
}
